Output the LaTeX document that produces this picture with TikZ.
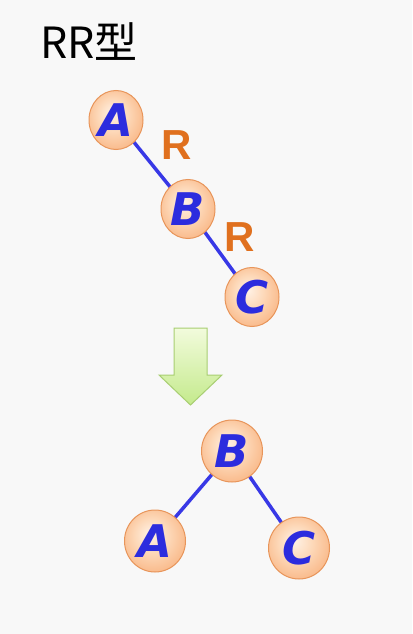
\documentclass[tikz,border=0pt]{standalone}
\usepackage{fontspec}
\usetikzlibrary{shapes.geometric}
\setmainfont{Liberation Sans}
\newfontfamily\letterfont{DejaVu Sans}
\newfontfamily\cjkf{Noto Sans CJK SC}
\definecolor{bg}{HTML}{F8F8F8}
\definecolor{nodeedge}{HTML}{E8955A}
\definecolor{nodein}{HTML}{FFF2E6}
\definecolor{nodemid}{HTML}{FDD8B8}
\definecolor{nodeout}{HTML}{F8B07C}
\definecolor{letter}{HTML}{2C2CDE}
\definecolor{edgeblue}{HTML}{3838E6}
\definecolor{rorange}{HTML}{E0701E}
\definecolor{arrowedge}{HTML}{A8CE72}
\definecolor{arrowtop}{HTML}{F2FBDC}
\definecolor{arrowbot}{HTML}{C4EA8C}
\pgfdeclareradialshading{nodeshade}{\pgfpoint{-4bp}{6bp}}{%
  color(0bp)=(nodein); color(14bp)=(nodemid); color(33bp)=(nodeout); color(50bp)=(nodeout)}
\tikzset{
  treenode/.style={ellipse, minimum width=54pt, minimum height=59pt, inner sep=0pt, draw=nodeedge, line width=1pt,
    shading=nodeshade,
    font=\letterfont\fontsize{45}{45}\selectfont\bfseries\itshape, text=letter},
  bignode/.style={treenode, minimum width=61pt, minimum height=62pt},
  link/.style={edgeblue, line width=3.5pt},
  rlabel/.style={font=\fontsize{42}{42}\selectfont\bfseries, text=rorange},
}
\begin{document}
\begin{tikzpicture}[x=1pt,y=-1pt]
\fill[bg] (0,0) rectangle (412,634);
\useasboundingbox (0,0) rectangle (412,634);
\node[anchor=west, inner sep=0pt, font=\cjkf\fontsize{43}{43}\selectfont, text=black] (title) at (40,42) {RR型};
% top chain
\coordinate (pa) at (116,120);
\coordinate (pb) at (188,209);
\coordinate (pc) at (252,297);
\draw[link] (pa) -- (pb);
\draw[link] (pb) -- (pc);
\node[treenode] (A1) at (pa) {A};
\node[treenode] (B1) at (pb) {B};
\node[treenode] (C1) at (pc) {C};
\node[rlabel] (R1) at (177,145) {R};
\node[rlabel] (R2) at (240,237) {R};
% arrow
\shade[top color=arrowtop, bottom color=arrowbot, draw=arrowedge, line width=1pt]
  (174,328) -- (207,328) -- (207,375) -- (222,375) -- (190.5,405) -- (159,375) -- (174,375) -- cycle;
% bottom tree
\coordinate (qb) at (232,451);
\coordinate (qa) at (155,541);
\coordinate (qc) at (299,548);
\draw[link] (qb) -- (qa);
\draw[link] (qb) -- (qc);
\node[bignode] (B2) at (qb) {B};
\node[bignode] (A2) at (qa) {A};
\node[bignode] (C2) at (qc) {C};
\end{tikzpicture}
\end{document}
